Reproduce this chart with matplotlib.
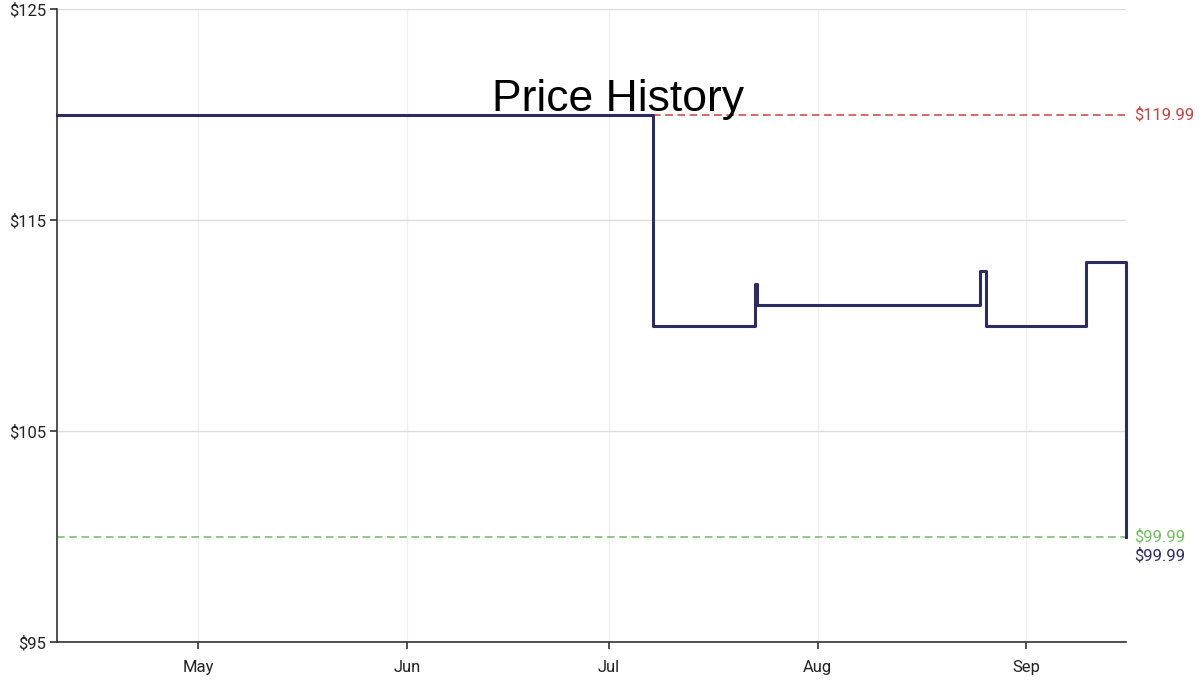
import pandas as pd
import matplotlib.pyplot as plt
import matplotlib.dates as mdates

plt.rcParams['font.family'] = ['Roboto', 'DejaVu Sans']

# price change points (step "post")
change_times = pd.to_datetime([
    "2020-04-10 00:00", "2020-07-07 14:00", "2020-07-22 18:00", "2020-07-22 23:00",
    "2020-08-25 04:00", "2020-08-26 02:00", "2020-09-09 20:00", "2020-09-15 20:00",
])
prices = [119.99, 109.99, 111.99, 110.99, 112.59, 109.99, 112.99, 99.99]

highest_price = 119.99
lowest_price = 99.99
current_price = 99.99
y_ticks = [95, 105, 115, 125]

navy = "#2c2c63"
red = "#c8413f"
green = "#6fbf5f"

fig = plt.figure(figsize=(12, 6.81), dpi=100)
ax = fig.add_axes([57 / 1200, 1 - 642 / 681, (1126 - 57) / 1200, (642 - 9) / 681])

ax.step(change_times, prices, where="post", color=navy, lw=2.2, zorder=3, clip_on=False)

# reference lines
ax.hlines(highest_price, change_times[1], change_times[-1], colors=red, linestyles=(0, (5, 3)), lw=1.1)
ax.hlines(lowest_price, change_times[0], change_times[-1], colors=green, linestyles=(0, (5, 3)), lw=1.1)

ax.set_xlim(change_times[0], change_times[-1])
ax.set_ylim(95, 125)
ax.set_yticks(y_ticks)
ax.set_yticklabels([f"${v}" for v in y_ticks])
ax.xaxis.set_major_locator(mdates.MonthLocator())
ax.xaxis.set_major_formatter(mdates.DateFormatter("%b"))

ax.grid(axis="y", color="#dcdcdc", lw=1)
ax.grid(axis="x", color="#f0f0f0", lw=1)
ax.set_axisbelow(True)
for s in ["top", "right"]:
    ax.spines[s].set_visible(False)
for s in ["left", "bottom"]:
    ax.spines[s].set_color("#333333")
    ax.spines[s].set_linewidth(1.2)
ax.tick_params(axis="both", length=5, width=1.2, color="#333333", labelsize=12, labelcolor="#222222")
ax.tick_params(axis="x", pad=8)
ax.tick_params(axis="y", pad=3)

# right-side labels
ax.annotate(f"${highest_price}", xy=(1, highest_price), xycoords=("axes fraction", "data"),
            xytext=(6, 0), textcoords="offset points", va="center", color=red, fontsize=12)
ax.annotate(f"${lowest_price}", xy=(1, lowest_price), xycoords=("axes fraction", "data"),
            xytext=(6, 0), textcoords="offset points", va="center", color=green, fontsize=12)
ax.annotate(f"${current_price}", xy=(1, current_price), xycoords=("axes fraction", "data"),
            xytext=(6, -14), textcoords="offset points", va="center", color=navy, fontsize=12)

ax.text(0.525, 0.857, "Price History", transform=ax.transAxes, ha="center", va="center",
        fontsize=32, family=["Liberation Sans", "DejaVu Sans"], color="black")

fig.savefig("out.png", dpi=100)
